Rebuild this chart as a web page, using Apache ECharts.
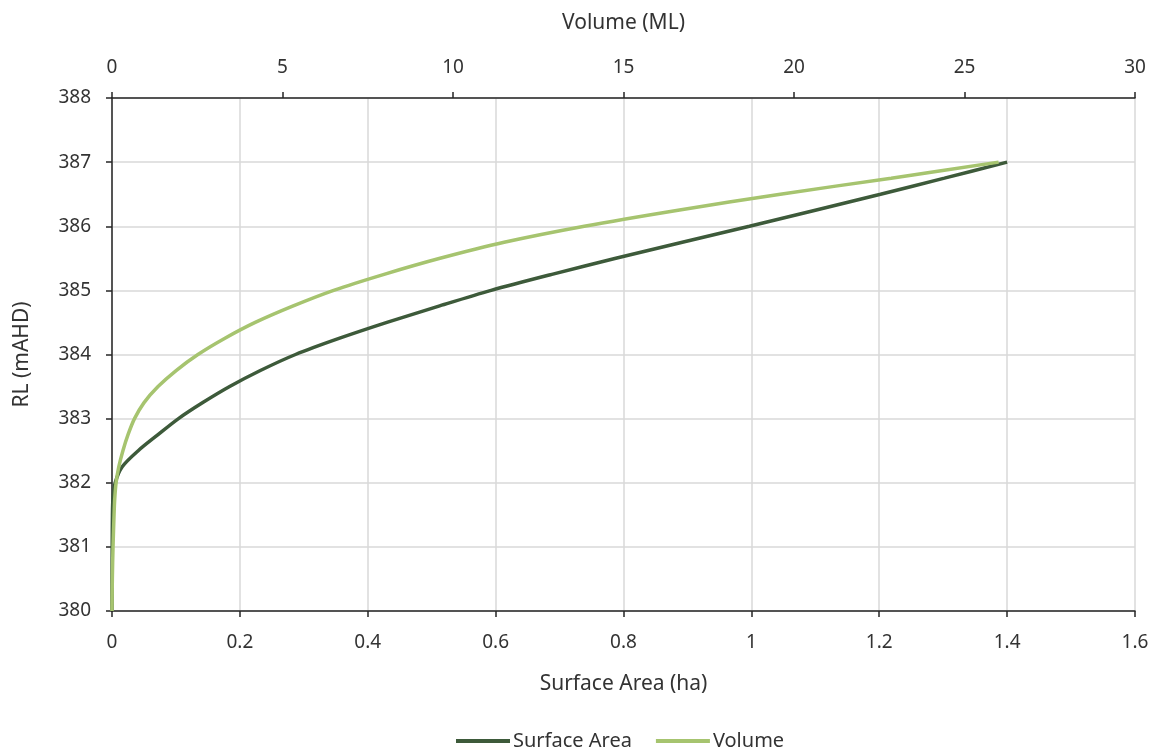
<!DOCTYPE html>
<html>
<head>
<meta charset="utf-8">
<script src="https://cdn.jsdelivr.net/npm/echarts@6/dist/echarts.min.js"></script>
<style>
html,body{margin:0;padding:0;background:#fff;}
#c{width:1159px;height:754px;}
</style>
</head>
<body>
<div id="c"></div>
<script>
// Reduced level (mAHD)
const rl = [380, 380.5, 381, 381.5, 381.75, 382, 382.25, 382.5, 382.75, 383, 383.25, 383.5, 383.75, 384, 384.25, 384.5, 384.75, 385, 385.25, 385.5, 385.75, 386, 386.25, 386.5, 386.75, 387];
// Surface area (ha)
const surfaceArea = [0, 0, 0.0003, 0.0007, 0.0015, 0.005, 0.016, 0.041, 0.072, 0.104, 0.142, 0.184, 0.232, 0.287, 0.355, 0.43, 0.51, 0.593, 0.688, 0.788, 0.892, 0.997, 1.1, 1.202, 1.302, 1.4];
// Volume (ML)
const volume = [0, 0.01, 0.03, 0.06, 0.08, 0.12, 0.2, 0.32, 0.47, 0.66, 0.94, 1.35, 1.88, 2.52, 3.3, 4.2, 5.28, 6.5, 7.98, 9.62, 11.5, 13.85, 16.6, 19.6, 22.85, 26.0];

const FONT = '"Noto Sans", "Open Sans", sans-serif';
const TXT = '#333333';
const AXIS = '#262626';
const GRID = '#d9d9d9';

const chart = echarts.init(document.getElementById('c'));
chart.setOption({
  animation: false,
  textStyle: { fontFamily: FONT, color: TXT },
  grid: { left: 112, right: 24, top: 98, bottom: 143, containLabel: false },
  legend: {
    bottom: -2,
    left: 451,
    icon: 'rect',
    itemWidth: 54,
    itemHeight: 4,
    itemGap: 24,
    textStyle: { fontFamily: FONT, fontSize: 20, color: TXT, padding: [0, 0, 0, -2] },
    data: ['Surface Area', 'Volume']
  },
  xAxis: [
    {
      type: 'value', position: 'bottom', min: 0, max: 1.6, interval: 0.2,
      name: 'Surface Area (ha)', nameLocation: 'middle', nameGap: 63,
      nameTextStyle: { fontFamily: FONT, fontSize: 21, color: TXT },
      axisLine: { show: true, onZero: false, lineStyle: { color: AXIS, width: 1.5 } },
      axisTick: { show: true, length: 6, lineStyle: { color: AXIS, width: 1.5 } },
      axisLabel: { margin: 22, fontFamily: FONT, fontSize: 19, color: TXT },
      splitLine: { show: true, lineStyle: { color: GRID, width: 1.5 } }
    },
    {
      type: 'value', position: 'top', min: 0, max: 30, interval: 5,
      name: 'Volume (ML)', nameLocation: 'middle', nameGap: 64,
      nameTextStyle: { fontFamily: FONT, fontSize: 21, color: TXT },
      axisLine: { show: true, onZero: false, lineStyle: { color: AXIS, width: 1.5 } },
      axisTick: { show: true, length: 6, lineStyle: { color: AXIS, width: 1.5 } },
      axisLabel: { margin: 21, fontFamily: FONT, fontSize: 19, color: TXT },
      splitLine: { show: false }
    }
  ],
  yAxis: {
    type: 'value', min: 380, max: 388, interval: 1,
    name: 'RL (mAHD)', nameLocation: 'middle', nameGap: 79, nameRotate: 90,
    nameTextStyle: { fontFamily: FONT, fontSize: 21, color: TXT },
    axisLine: { show: true, onZero: false, lineStyle: { color: AXIS, width: 1.5 } },
    axisTick: { show: true, length: 6, lineStyle: { color: AXIS, width: 1.5 } },
    axisLabel: { margin: 21, fontFamily: FONT, fontSize: 19, color: TXT },
    splitLine: { show: true, lineStyle: { color: GRID, width: 1.5 } }
  },
  series: [
    {
      name: 'Surface Area', type: 'line', xAxisIndex: 0, yAxisIndex: 0,
      data: rl.map((y, i) => [surfaceArea[i], y]),
      smooth: 0.3, showSymbol: false, symbol: 'none',
      lineStyle: { color: '#3d5a3a', width: 3.5 }, itemStyle: { color: '#3d5a3a' }
    },
    {
      name: 'Volume', type: 'line', xAxisIndex: 1, yAxisIndex: 0,
      data: rl.map((y, i) => [volume[i], y]),
      smooth: 0.3, showSymbol: false, symbol: 'none',
      lineStyle: { color: '#a6c46f', width: 3.5 }, itemStyle: { color: '#a6c46f' }
    }
  ]
});
</script>
</body>
</html>
